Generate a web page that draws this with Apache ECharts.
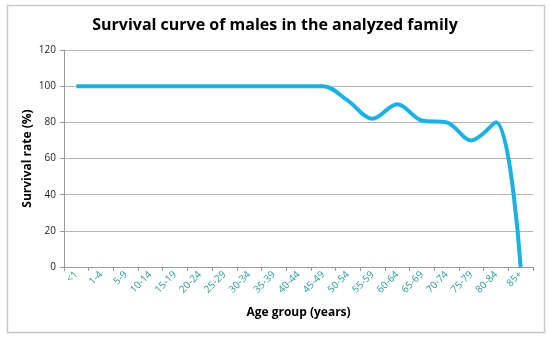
<!DOCTYPE html>
<html>
<head>
<meta charset="utf-8">
<script src="https://cdn.jsdelivr.net/npm/echarts@6/dist/echarts.min.js"></script>
<style>
  html, body { margin: 0; padding: 0; background: #fff; }
  #main { width: 550px; height: 341px; }
</style>
</head>
<body>
<div id="main"></div>
<script>
var ageGroups = ['<1', '1-4', '5-9', '10-14', '15-19', '20-24', '25-29', '30-34', '35-39', '40-44',
  '45-49', '50-54', '55-59', '60-64', '65-69', '70-74', '75-79', '80-84', '85+'];
var survival = [100, 100, 100, 100, 100, 100, 100, 100, 100, 100,
  100, 92, 82, 90, 81, 80, 70, 80, 0];
var yTicks = [0, 20, 40, 60, 80, 100, 120];

var myChart = echarts.init(document.getElementById('main'));
var option = {
  animation: false,
  textStyle: { fontFamily: 'Open Sans' },
  title: {
    text: 'Survival curve of males in the analyzed family',
    left: 'center',
    top: 12,
    textStyle: { fontSize: 16, fontWeight: 'bold', color: '#000', fontFamily: 'Open Sans' }
  },
  graphic: [{
    type: 'rect',
    shape: { x: 7.5, y: 5.5, width: 537, height: 327 },
    style: { fill: 'none', stroke: '#c8c8c8', lineWidth: 1.5 },
    silent: true
  }],
  grid: { left: 64, right: 17, top: 50, bottom: 74 },
  xAxis: {
    type: 'category',
    data: ageGroups,
    boundaryGap: true,
    name: 'Age group (years)',
    nameLocation: 'middle',
    nameGap: 40,
    nameMoveOverlap: false,
    nameTextStyle: { fontSize: 12, fontWeight: 'bold', color: '#000' },
    axisLine: { lineStyle: { color: '#999', width: 1 } },
    axisTick: { show: true, length: 4, lineStyle: { color: '#999' } },
    axisLabel: { rotate: 45, fontSize: 10, color: '#2b9a9a', margin: 6, interval: 0 }
  },
  yAxis: {
    type: 'value',
    min: yTicks[0],
    max: yTicks[yTicks.length - 1],
    interval: 20,
    name: 'Survival rate (%)',
    nameLocation: 'middle',
    nameGap: 30,
    nameMoveOverlap: false,
    nameTextStyle: { fontSize: 12, fontWeight: 'bold', color: '#000' },
    axisLine: { show: true, lineStyle: { color: '#999', width: 1 } },
    axisTick: { show: true, length: 4, lineStyle: { color: '#999' } },
    axisLabel: { fontSize: 10, color: '#222', margin: 8 },
    splitLine: { lineStyle: { color: '#b4b4b4', width: 1 } }
  },
  series: [{
    type: 'line',
    data: survival,
    smooth: 0.35,
    showSymbol: false,
    lineStyle: { color: '#1bb0e6', width: 4 }
  }]
};
myChart.setOption(option);
</script>
</body>
</html>
